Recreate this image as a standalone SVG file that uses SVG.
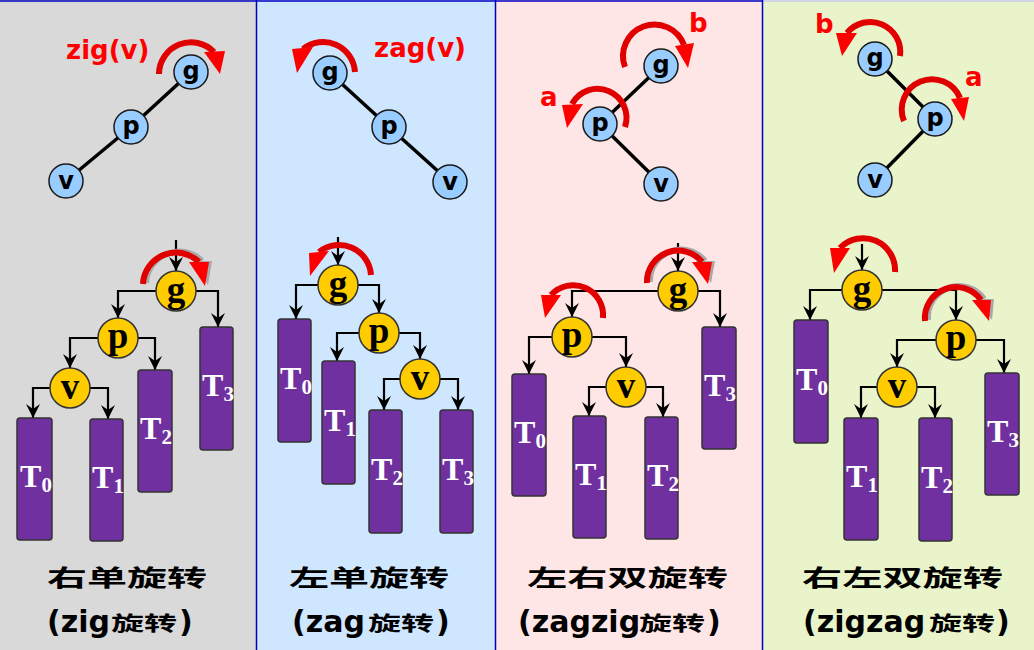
<svg xmlns="http://www.w3.org/2000/svg" width="1034" height="650" viewBox="0 0 1034 650">
<style>
.tn{fill:#99ccff;stroke:#1a1a1a;stroke-width:1.5}
.tl{font-family:"DejaVu Sans",sans-serif;font-weight:bold;font-size:24px;fill:#000;text-anchor:middle}
.bn{fill:#ffcc00;stroke:#333;stroke-width:1.5}
.bl{font-family:"Liberation Serif",serif;font-weight:bold;font-size:37px;fill:#000;text-anchor:middle}
.st{fill:#7030a0;stroke:#333;stroke-width:1.5}
.tt{font-family:"Liberation Serif",serif;font-weight:bold;font-size:32px;fill:#fff;text-anchor:middle}
.sb{font-size:21px}
.edge{stroke:#000;stroke-width:3.5}
.conn{fill:none;stroke:#000;stroke-width:2.2;marker-end:url(#ah)}
.rot{fill:none;stroke:#e00000;stroke-width:6}
.shd{fill:none;stroke:#a8a8a8;stroke-width:6}
.shh{fill:#a8a8a8}
.rh{fill:#ff0000}
.rl{font-family:"DejaVu Sans",sans-serif;font-weight:bold;font-size:26px;fill:#ff0000}
.cap{font-family:"Noto Sans CJK SC",sans-serif;font-weight:bold;font-size:23px;fill:#000}
.cap2{font-family:"Noto Sans CJK SC",sans-serif;font-weight:bold;font-size:20px;fill:#000}
.lat{font-family:"DejaVu Sans",sans-serif;font-weight:bold;font-size:30px;fill:#000}
.div{stroke:#0000c0;stroke-width:1.5}
</style>
<defs>
<marker id="ah" viewBox="0 0 14 14" refX="14" refY="7" markerWidth="14" markerHeight="14" markerUnits="userSpaceOnUse" orient="auto">
<path d="M0,0 L14,7 L0,14 L5,7 Z" fill="#000"/>
</marker>
</defs>

<g id="backgrounds">
<rect x="0" y="0" width="256" height="650" fill="#d9d9d9"/>
<rect x="256" y="0" width="239" height="650" fill="#cfe6ff"/>
<rect x="495" y="0" width="267" height="650" fill="#ffe6e6"/>
<rect x="762" y="0" width="272" height="650" fill="#e9f4cb"/>
<line class="div" x1="0" y1="1" x2="762" y2="1"/>
<line x1="762" y1="1" x2="1034" y2="1" stroke="#c8c8f0" stroke-width="1.5"/>
<line class="div" x1="256.5" y1="0" x2="256.5" y2="650"/>
<line class="div" x1="495.5" y1="0" x2="495.5" y2="650"/>
<line class="div" x1="762.5" y1="0" x2="762.5" y2="650"/>
</g>

<g id="connectors">
<line class="edge" x1="191" y1="72" x2="131" y2="127"/>
<line class="edge" x1="131" y1="127" x2="66" y2="181"/>
<line class="edge" x1="330" y1="73" x2="389" y2="127"/>
<line class="edge" x1="389" y1="127" x2="450" y2="182"/>
<line class="edge" x1="661" y1="66" x2="600" y2="124"/>
<line class="edge" x1="600" y1="124" x2="661" y2="184"/>
<line class="edge" x1="875" y1="59" x2="935" y2="119"/>
<line class="edge" x1="935" y1="119" x2="875" y2="180"/>

<path class="conn" d="M176,240 V271"/>
<path class="conn" d="M156,291 H118 V318"/>
<path class="conn" d="M196,291 H218 V327"/>
<path class="conn" d="M98,338 H70 V368"/>
<path class="conn" d="M138,338 H155 V370"/>
<path class="conn" d="M50,388 H33 V418"/>
<path class="conn" d="M90,388 H108 V419"/>

<path class="conn" d="M338,237 V265"/>
<path class="conn" d="M318,285 H296 V319"/>
<path class="conn" d="M358,285 H379 V313"/>
<path class="conn" d="M359,333 H337 V361"/>
<path class="conn" d="M399,333 H420 V359"/>
<path class="conn" d="M400,379 H384 V410"/>
<path class="conn" d="M440,379 H458 V410"/>

<path class="conn" d="M678,243 V271"/>
<path class="conn" d="M658,291 H572 V317"/>
<path class="conn" d="M698,291 H720 V327"/>
<path class="conn" d="M552,337 H529 V374"/>
<path class="conn" d="M592,337 H626 V367"/>
<path class="conn" d="M606,387 H589 V416"/>
<path class="conn" d="M646,387 H663 V417"/>

<path class="conn" d="M862,244 V270"/>
<path class="conn" d="M842,290 H810 V320"/>
<path class="conn" d="M882,290 H956 V320"/>
<path class="conn" d="M936,340 H897 V367"/>
<path class="conn" d="M976,340 H1004 V373"/>
<path class="conn" d="M877,387 H861 V418"/>
<path class="conn" d="M917,387 H935 V418"/>
</g>

<!-- Panel 1 -->
<g id="p1-top-g"><circle class="tn" cx="191" cy="72" r="17"/><text class="tl" x="191" y="79">g</text></g>
<g id="p1-top-p"><circle class="tn" cx="131" cy="127" r="17"/><text class="tl" x="131" y="134">p</text></g>
<g id="p1-top-v"><circle class="tn" cx="66" cy="181" r="17"/><text class="tl" x="66" y="189">v</text></g>
<g id="p1-label"><text class="rl" x="66" y="59">zig(v)</text></g>
<g id="p1-rot-top"><path class="rot" d="M159,74 A32,32 0 0 1 214,52"/><polygon class="rh" points="204,52 225,51 220,74"/></g>

<g id="p1-rot-bottom">
<path class="shd" d="M146,283 A33,33 0 0 1 202,261"/><polygon class="shh" points="193,261 212,261 208,285"/>
<path class="rot" d="M143,284 A33,33 0 0 1 199,262"/><polygon class="rh" points="189,262 209,262 205,286"/>
</g>
<g id="p1-g"><circle class="bn" cx="176" cy="291" r="20"/><text class="bl" x="176" y="302">g</text></g>
<g id="p1-p"><circle class="bn" cx="118" cy="338" r="20"/><text class="bl" x="118" y="348">p</text></g>
<g id="p1-v"><circle class="bn" cx="70" cy="388" r="20"/><text class="bl" x="70" y="399">v</text></g>
<g id="p1-T0"><rect class="st" x="17" y="418" width="35" height="122" rx="3"/><text class="tt" x="36" y="487">T<tspan class="sb" dy="5">0</tspan></text></g>
<g id="p1-T1"><rect class="st" x="90" y="419" width="33" height="122" rx="3"/><text class="tt" x="108" y="488">T<tspan class="sb" dy="5">1</tspan></text></g>
<g id="p1-T2"><rect class="st" x="138" y="370" width="34" height="122" rx="3"/><text class="tt" x="156" y="439">T<tspan class="sb" dy="5">2</tspan></text></g>
<g id="p1-T3"><rect class="st" x="200" y="327" width="33" height="123" rx="3"/><text class="tt" x="218" y="396">T<tspan class="sb" dy="5">3</tspan></text></g>
<g id="p1-caption">
<text class="cap" x="47" y="586" textLength="160" lengthAdjust="spacingAndGlyphs">右单旋转</text>
<text class="lat" x="47" y="632">(zig</text>
<text class="cap2" x="111" y="631" textLength="66" lengthAdjust="spacingAndGlyphs">旋转</text>
<text class="lat" x="179" y="632">)</text>
</g>

<!-- Panel 2 -->
<g id="p2-top-g"><circle class="tn" cx="330" cy="73" r="17"/><text class="tl" x="330" y="80">g</text></g>
<g id="p2-top-p"><circle class="tn" cx="389" cy="127" r="17"/><text class="tl" x="389" y="134">p</text></g>
<g id="p2-top-v"><circle class="tn" cx="450" cy="182" r="17"/><text class="tl" x="450" y="190">v</text></g>
<g id="p2-label"><text class="rl" x="374" y="57">zag(v)</text></g>
<g id="p2-rot-top"><path class="rot" d="M355,72 A32,32 0 0 0 303,49"/><polygon class="rh" points="292,49 313,47 297,73"/></g>

<g id="p2-rot-bottom"><path class="rot" d="M371,275 A32,32 0 0 0 319,252"/><polygon class="rh" points="309,253 329,251 310,276"/></g>
<g id="p2-g"><circle class="bn" cx="338" cy="285" r="20"/><text class="bl" x="338" y="296">g</text></g>
<g id="p2-p"><circle class="bn" cx="379" cy="333" r="20"/><text class="bl" x="379" y="343">p</text></g>
<g id="p2-v"><circle class="bn" cx="420" cy="379" r="20"/><text class="bl" x="420" y="390">v</text></g>
<g id="p2-T0"><rect class="st" x="278" y="319" width="33" height="123" rx="3"/><text class="tt" x="296" y="389">T<tspan class="sb" dy="5">0</tspan></text></g>
<g id="p2-T1"><rect class="st" x="322" y="361" width="33" height="123" rx="3"/><text class="tt" x="340" y="431">T<tspan class="sb" dy="5">1</tspan></text></g>
<g id="p2-T2"><rect class="st" x="369" y="410" width="33" height="123" rx="3"/><text class="tt" x="387" y="480">T<tspan class="sb" dy="5">2</tspan></text></g>
<g id="p2-T3"><rect class="st" x="440" y="410" width="33" height="123" rx="3"/><text class="tt" x="458" y="480">T<tspan class="sb" dy="5">3</tspan></text></g>
<g id="p2-caption">
<text class="cap" x="289" y="586" textLength="160" lengthAdjust="spacingAndGlyphs">左单旋转</text>
<text class="lat" x="292" y="632">(zag</text>
<text class="cap2" x="368" y="631" textLength="66" lengthAdjust="spacingAndGlyphs">旋转</text>
<text class="lat" x="436" y="632">)</text>
</g>

<!-- Panel 3 -->
<g id="p3-top-g"><circle class="tn" cx="661" cy="66" r="17"/><text class="tl" x="661" y="73">g</text></g>
<g id="p3-top-p"><circle class="tn" cx="600" cy="124" r="17"/><text class="tl" x="600" y="131">p</text></g>
<g id="p3-top-v"><circle class="tn" cx="661" cy="184" r="17"/><text class="tl" x="661" y="192">v</text></g>
<g id="p3-label-b"><text class="rl" x="689" y="32">b</text></g>
<g id="p3-label-a"><text class="rl" x="540" y="106">a</text></g>
<g id="p3-rot-b"><path class="rot" d="M625,67 A31,31 0 0 1 684,45"/><polygon class="rh" points="675,46 694,43 688,68"/></g>
<g id="p3-rot-a"><path class="rot" d="M625,127 A29,29 0 0 0 572,104"/><polygon class="rh" points="562,105 583,104 567,128"/></g>

<g id="p3-rot-g">
<path class="shd" d="M650,282 A31,31 0 0 1 705,261"/><polygon class="shh" points="696,261 715,261 711,283"/>
<path class="rot" d="M647,283 A31,31 0 0 1 702,262"/><polygon class="rh" points="692,262 712,262 708,284"/>
</g>
<g id="p3-rot-p"><path class="rot" d="M603,318 A30,30 0 0 0 551,295"/><polygon class="rh" points="541,295 561,295 545,318"/></g>
<g id="p3-g"><circle class="bn" cx="678" cy="291" r="20"/><text class="bl" x="678" y="302">g</text></g>
<g id="p3-p"><circle class="bn" cx="572" cy="337" r="20"/><text class="bl" x="572" y="347">p</text></g>
<g id="p3-v"><circle class="bn" cx="626" cy="387" r="20"/><text class="bl" x="626" y="398">v</text></g>
<g id="p3-T0"><rect class="st" x="512" y="374" width="34" height="122" rx="3"/><text class="tt" x="530" y="443">T<tspan class="sb" dy="5">0</tspan></text></g>
<g id="p3-T1"><rect class="st" x="573" y="416" width="33" height="122" rx="3"/><text class="tt" x="591" y="485">T<tspan class="sb" dy="5">1</tspan></text></g>
<g id="p3-T2"><rect class="st" x="645" y="417" width="33" height="122" rx="3"/><text class="tt" x="663" y="486">T<tspan class="sb" dy="5">2</tspan></text></g>
<g id="p3-T3"><rect class="st" x="702" y="327" width="34" height="122" rx="3"/><text class="tt" x="720" y="396">T<tspan class="sb" dy="5">3</tspan></text></g>
<g id="p3-caption">
<text class="cap" x="527" y="586" textLength="201" lengthAdjust="spacingAndGlyphs">左右双旋转</text>
<text class="lat" x="518" y="632">(zagzig</text>
<text class="cap2" x="639" y="631" textLength="66" lengthAdjust="spacingAndGlyphs">旋转</text>
<text class="lat" x="707" y="632">)</text>
</g>

<!-- Panel 4 -->
<g id="p4-top-g"><circle class="tn" cx="875" cy="59" r="17"/><text class="tl" x="875" y="66">g</text></g>
<g id="p4-top-p"><circle class="tn" cx="935" cy="119" r="17"/><text class="tl" x="935" y="126">p</text></g>
<g id="p4-top-v"><circle class="tn" cx="875" cy="180" r="17"/><text class="tl" x="875" y="188">v</text></g>
<g id="p4-label-b"><text class="rl" x="815" y="33">b</text></g>
<g id="p4-label-a"><text class="rl" x="965" y="86">a</text></g>
<g id="p4-rot-b"><path class="rot" d="M900,56 A30,30 0 0 0 847,33"/><polygon class="rh" points="836,33 857,33 842,56"/></g>
<g id="p4-rot-a"><path class="rot" d="M904,121 A30,30 0 0 1 960,98"/><polygon class="rh" points="951,99 969,97 964,121"/></g>

<g id="p4-rot-g"><path class="rot" d="M895,272 A32,32 0 0 0 840,248"/><polygon class="rh" points="830,248 850,248 834,273"/></g>
<g id="p4-rot-p">
<path class="shd" d="M928,320 A31,31 0 0 1 984,299"/><polygon class="shh" points="976,299 994,299 992,320"/>
<path class="rot" d="M925,321 A31,31 0 0 1 981,300"/><polygon class="rh" points="972,300 991,300 989,321"/>
</g>
<g id="p4-g"><circle class="bn" cx="862" cy="290" r="20"/><text class="bl" x="862" y="301">g</text></g>
<g id="p4-p"><circle class="bn" cx="956" cy="340" r="20"/><text class="bl" x="956" y="350">p</text></g>
<g id="p4-v"><circle class="bn" cx="897" cy="387" r="20"/><text class="bl" x="897" y="398">v</text></g>
<g id="p4-T0"><rect class="st" x="794" y="320" width="34" height="123" rx="3"/><text class="tt" x="812" y="390">T<tspan class="sb" dy="5">0</tspan></text></g>
<g id="p4-T1"><rect class="st" x="844" y="418" width="34" height="122" rx="3"/><text class="tt" x="862" y="487">T<tspan class="sb" dy="5">1</tspan></text></g>
<g id="p4-T2"><rect class="st" x="919" y="418" width="33" height="123" rx="3"/><text class="tt" x="937" y="488">T<tspan class="sb" dy="5">2</tspan></text></g>
<g id="p4-T3"><rect class="st" x="985" y="373" width="34" height="122" rx="3"/><text class="tt" x="1003" y="442">T<tspan class="sb" dy="5">3</tspan></text></g>
<g id="p4-caption">
<text class="cap" x="802" y="586" textLength="201" lengthAdjust="spacingAndGlyphs">右左双旋转</text>
<text class="lat" x="803" y="632">(zigzag</text>
<text class="cap2" x="929" y="631" textLength="66" lengthAdjust="spacingAndGlyphs">旋转</text>
<text class="lat" x="996" y="632">)</text>
</g>
</svg>
